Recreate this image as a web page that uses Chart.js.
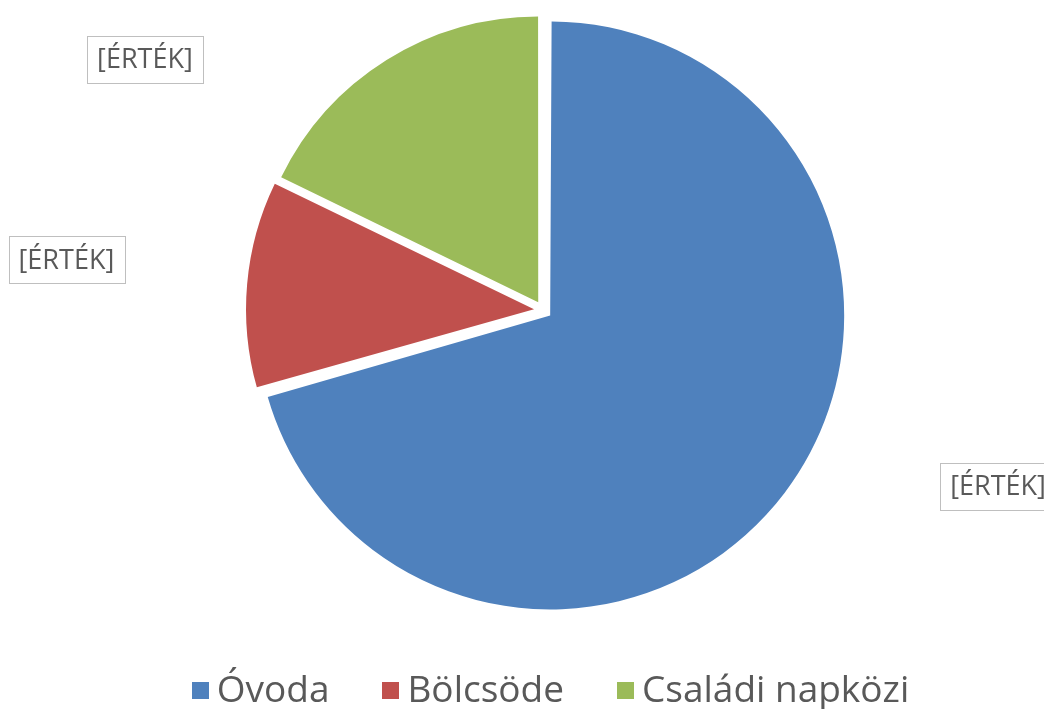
<!DOCTYPE html>
<html><head><meta charset="utf-8">
<script src="https://cdn.jsdelivr.net/npm/chart.js@4.4.1/dist/chart.umd.min.js"></script>
<style>html,body{margin:0;padding:0;background:#fff;}#wrap{width:1044px;height:709px;position:relative;}</style>
</head><body><div id="wrap"><canvas id="c"></canvas></div>
<script>
// ---- data ----
const categories = ['Óvoda', 'Bölcsöde', 'Családi napközi'];
const values = [70.6, 11.6, 17.8];
const labelTexts = ['[ÉRTÉK]', '[ÉRTÉK]', '[ÉRTÉK]'];
// ---- style ----
const colors = ['#4F81BD', '#C0504D', '#9BBB59'];
const labelAnglesDeg = [111.2, 276, 302.2];
const labelDistances = [1.66, 1.63, 1.60];
const SLICE_OFFSET = 36;
const RADIUS = 285;
const TEXT_COLOR = '#595959';
const LEGEND_FONT = '37px "Open Sans"';
const LABEL_FONT = '27px "Open Sans"';

const overlay = {
  id: 'overlay',
  afterDraw(chart) {
    const ctx = chart.ctx;
    const arcs = chart.getDatasetMeta(0).data;
    const cx = arcs[0].x, cy = arcs[0].y, R = arcs[0].outerRadius;
    // data labels
    ctx.save();
    ctx.font = LABEL_FONT;
    ctx.textAlign = 'center';
    ctx.textBaseline = 'middle';
    labelTexts.forEach((t, i) => {
      const a = labelAnglesDeg[i] * Math.PI / 180;
      const d = 294 * labelDistances[i];
      const x = cx + Math.sin(a) * d;
      const y = cy - Math.cos(a) * d;
      const w = ctx.measureText(t).width + 20;
      const h = 47;
      ctx.strokeStyle = '#BFBFBF';
      ctx.lineWidth = 1;
      ctx.strokeRect(Math.round(x - w / 2) + 0.5, Math.round(y - h / 2) + 0.5, Math.round(w), h);
      ctx.fillStyle = TEXT_COLOR;
      ctx.fillText(t, x, y + 1);
    });
    // legend
    ctx.font = LEGEND_FONT;
    ctx.textAlign = 'left';
    const box = 17, gap = 8, itemGap = 53;
    const widths = categories.map(c => ctx.measureText(c).width);
    const totalW = widths.reduce((s, w) => s + box + gap + w, 0) + itemGap * (categories.length - 1);
    let x = 550.5 - totalW / 2;
    const ly = 690;
    categories.forEach((c, i) => {
      ctx.fillStyle = colors[i];
      ctx.fillRect(Math.round(x), ly - 8, box, box);
      ctx.fillStyle = TEXT_COLOR;
      ctx.fillText(c, x + box + gap, ly + 1);
      x += box + gap + widths[i] + itemGap;
    });
    ctx.restore();
  }
};

new Chart(document.getElementById('c'), {
  type: 'pie',
  data: {
    labels: categories,
    datasets: [{
      data: values,
      backgroundColor: colors,
      borderWidth: 0,
      offset: SLICE_OFFSET,
      hoverOffset: 0
    }]
  },
  options: {
    responsive: true,
    maintainAspectRatio: false,
    animation: false,
    radius: RADIUS,
    layout: { padding: { left: 42, right: 0, top: 0, bottom: 89 } },
    plugins: { legend: { display: false }, tooltip: { enabled: false } }
  },
  plugins: [overlay]
});
</script>
</body></html>
